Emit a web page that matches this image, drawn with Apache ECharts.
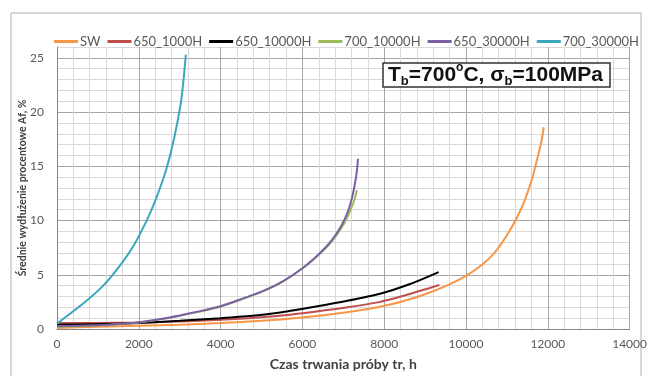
<!DOCTYPE html>
<html>
<head>
<meta charset="utf-8">
<script src="https://cdn.jsdelivr.net/npm/echarts@6/dist/echarts.min.js"></script>
<style>
  html, body { margin: 0; padding: 0; background: #fff; }
  #main { width: 650px; height: 376px; }
</style>
</head>
<body>
<div id="main"></div>
<script>
// values: [hours, elongation %]
const seriesNames = ["SW", "650_1000H", "650_10000H", "700_10000H", "650_30000H", "700_30000H"];
const seriesColors = ["#f79646", "#c0504d", "#000000", "#9bbb59", "#7d5fa6", "#3aa7bd"];

const sw = [
  [0, 0.1], [1000, 0.2], [2000, 0.3], [3000, 0.4], [4000, 0.55], [5000, 0.75],
  [6000, 1.05], [7000, 1.5], [7900, 2.05], [8500, 2.6], [9000, 3.2], [9500, 3.95],
  [10000, 4.9], [10400, 5.95], [10700, 7.05], [11000, 8.65], [11250, 10.3],
  [11450, 12.0], [11620, 13.9], [11750, 15.8], [11850, 17.4], [11900, 18.6]
];
const s650_1000 = [
  [0, 0.55], [1000, 0.55], [2000, 0.6], [3000, 0.7], [4000, 0.85], [4700, 1.0],
  [5500, 1.25], [6300, 1.6], [7100, 2.0], [7900, 2.5], [8600, 3.2], [9350, 4.05]
];
const s650_10000 = [
  [0, 0.4], [1000, 0.45], [2000, 0.55], [3000, 0.75], [4000, 1.0], [4700, 1.2],
  [5500, 1.55], [6300, 2.05], [7100, 2.6], [7900, 3.25], [8600, 4.1], [9330, 5.25]
];
const s700_10000 = [
  [0, 0.2], [1000, 0.32], [1500, 0.43], [2000, 0.6], [2500, 0.88], [3000, 1.22],
  [3500, 1.62], [4000, 2.08], [4500, 2.72], [5000, 3.42], [5500, 4.33], [6000, 5.58],
  [6400, 6.85], [6700, 8.0], [6950, 9.3], [7100, 10.3], [7200, 11.2], [7280, 12.0],
  [7330, 12.8]
];
const s650_30000 = [
  [0, 0.25], [1000, 0.35], [1500, 0.45], [2000, 0.62], [2500, 0.9], [3000, 1.25],
  [3500, 1.65], [4000, 2.1], [4500, 2.75], [5000, 3.45], [5500, 4.35], [6000, 5.6],
  [6400, 6.9], [6700, 8.1], [6950, 9.5], [7100, 10.7], [7200, 11.9], [7280, 13.3],
  [7330, 14.5], [7360, 15.7]
];
const s700_30000 = [
  [0, 0.5], [640, 2.35], [1130, 4.0], [1530, 5.8], [1860, 7.6], [2180, 9.9],
  [2420, 12.0], [2670, 14.7], [2870, 17.7], [3030, 20.9], [3100, 23.2], [3150, 25.3]
];
const allData = [sw, s650_1000, s650_10000, s700_10000, s650_30000, s700_30000];

const xMax = 14000;
const yMax = 26;

const chart = echarts.init(document.getElementById("main"));

const major = "#a6a6a6";
const minor = "#d9d9d9";

const option = {
  animation: false,
  textStyle: { fontFamily: "Lato" },
  grid: { left: 57, right: 17, top: 47, bottom: 38 },
  legend: {
    left: 49,
    top: 30,
    itemWidth: 24,
    itemHeight: 3,
    itemGap: 7,
    icon: "rect",
    textStyle: { fontSize: 13, color: "#595959", padding: [0, 0, 0, -3] },
    data: seriesNames
  },
  xAxis: {
    type: "value",
    min: 0,
    max: xMax,
    interval: 400,
    name: "Czas trwania próby tr, h",
    nameLocation: "middle",
    nameGap: 28,
    nameMoveOverlap: false,
    nameTextStyle: { fontSize: 14, fontWeight: "bold", color: "#404040" },
    axisLine: { lineStyle: { color: "#868686" } },
    axisTick: { show: false },
    axisLabel: {
      fontSize: 12,
      color: "#595959",
      margin: 9,
      formatter: v => (v % 2000 === 0 ? String(v) : "")
    },
    splitLine: { lineStyle: { color: [major, minor, minor, minor, minor], width: 1 } }
  },
  yAxis: {
    type: "value",
    min: 0,
    max: yMax,
    interval: 1,
    name: "Średnie wydłużenie procentowe Af, %",
    nameLocation: "middle",
    nameGap: 29,
    nameMoveOverlap: false,
    nameTextStyle: { fontSize: 10.5, fontWeight: "bold", color: "#404040" },
    axisLine: { show: true, lineStyle: { color: "#868686" } },
    axisTick: { show: false },
    axisLabel: {
      fontSize: 12,
      color: "#595959",
      margin: 13,
      formatter: v => (v % 5 === 0 && v <= 25 ? String(v) : "")
    },
    splitLine: { lineStyle: { color: [major, minor, minor, minor, minor], width: 1 } }
  },
  series: seriesNames.map((name, i) => ({
    name: name,
    type: "line",
    data: allData[i],
    smooth: 0.2,
    showSymbol: false,
    color: seriesColors[i],
    lineStyle: { width: 2, color: seriesColors[i] }
  })),
  graphic: [
    {
      type: "rect",
      silent: true,
      z: -1,
      shape: { x: 11, y: 13, width: 630, height: 400 },
      style: { fill: "#fff", stroke: "#b0b0b0", lineWidth: 1 }
    },
    {
      type: "rect",
      z: 100,
      shape: { x: 383, y: 63, width: 227, height: 24 },
      style: { fill: "#fff", stroke: "#333", lineWidth: 1.5 }
    },
    {
      type: "text",
      z: 101,
      left: 388,
      top: 62,
      style: {
        text: "{m|T}{sub|b}{m|=700}{sup|o}{m|C, σ}{sub|b}{m|=100MPa}",
        rich: {
          m: { fontSize: 21, fontWeight: "bold", fill: "#111", lineHeight: 26, verticalAlign: "middle" },
          sub: { fontSize: 13, fontWeight: "bold", fill: "#111", lineHeight: 26, verticalAlign: "bottom" },
          sup: { fontSize: 12, fontWeight: "bold", fill: "#111", lineHeight: 26, verticalAlign: "top" }
        }
      }
    }
  ]
};

chart.setOption(option);
</script>
</body>
</html>
